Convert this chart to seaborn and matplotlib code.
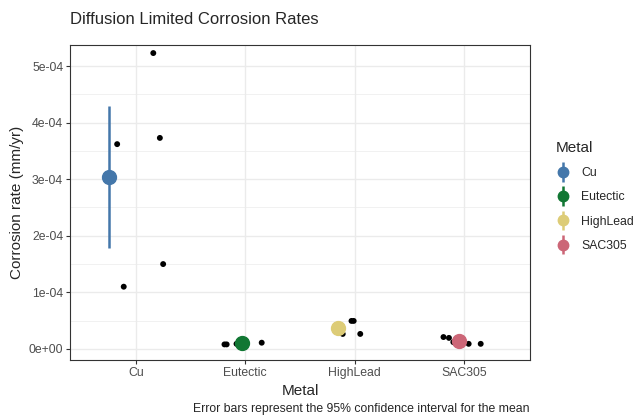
import numpy as np
import pandas as pd
import matplotlib
matplotlib.use("Agg")
import matplotlib.pyplot as plt
import seaborn as sns
from matplotlib.ticker import FuncFormatter, MultipleLocator
from matplotlib.legend_handler import HandlerErrorbar
from matplotlib.container import ErrorbarContainer

# samples per metal (mm/yr)
metals = ["Cu", "Eutectic", "HighLead", "SAC305"]
cu_rate = [5.23e-4, 3.62e-4, 3.73e-4, 1.10e-4, 1.50e-4]
eutectic_rate = [8e-6, 8e-6, 9e-6, 1.2e-5, 1.1e-5]
highlead_rate = [3.2e-5, 2.65e-5, 4.95e-5, 4.95e-5, 2.65e-5]
sac305_rate = [2.1e-5, 1.95e-5, 1.2e-5, 9e-6, 9e-6]

# horizontal jitter of each sample (category units)
cu_jit = [0.16, -0.17, 0.22, -0.11, 0.25]
eutectic_jit = [-0.19, -0.17, -0.08, -0.03, 0.15]
highlead_jit = [-0.17, -0.11, -0.03, -0.01, 0.05]
sac305_jit = [-0.19, -0.14, -0.10, 0.04, 0.15]

# mean marker jitter and 95% CI half width
mean_jit = [-0.24, -0.03, -0.15, -0.05]
ci_half = [1.26e-4, 3e-6, 8e-6, 5e-6]

colors = ["#4477AA", "#117733", "#DDCC77", "#CC6677"]

df = pd.DataFrame({
    "Metal": np.repeat(metals, 5),
    "rate": cu_rate + eutectic_rate + highlead_rate + sac305_rate,
    "jit": cu_jit + eutectic_jit + highlead_jit + sac305_jit,
})
df["xpos"] = df["Metal"].map({m: i for i, m in enumerate(metals)}) + df["jit"]
means = df.groupby("Metal", sort=False)["rate"].mean()

sns.set_style("white")
plt.rcParams["font.family"] = ["Liberation Sans", "DejaVu Sans"]

fig = plt.figure(figsize=(6.37, 4.18), dpi=100)
ax = fig.add_axes([0.110, 0.139, 0.722, 0.753])

sns.scatterplot(data=df, x="xpos", y="rate", color="black", s=18,
                edgecolor="none", ax=ax, zorder=3)

for i, m in enumerate(metals):
    ax.errorbar(i + mean_jit[i], means[m], yerr=ci_half[i], fmt="o",
                color=colors[i], markersize=10, elinewidth=1.8,
                capsize=0, label=m, zorder=4)

ax.set_xlim(-0.6, 3.6)
ax.set_ylim(-1.94e-5, 5.37e-4)
ax.set_xticks(range(len(metals)))
ax.set_xticklabels(metals)
ax.yaxis.set_major_locator(MultipleLocator(1e-4))
ax.yaxis.set_minor_locator(MultipleLocator(5e-5))
ax.yaxis.set_major_formatter(FuncFormatter(lambda v, p: f"{v:.0e}"))

ax.grid(True, which="major", color="#EBEBEB", linewidth=1.0, zorder=0)
ax.grid(True, which="minor", axis="y", color="#EBEBEB", linewidth=0.5, zorder=0)
ax.set_axisbelow(True)
for s in ax.spines.values():
    s.set_color("#333333")
    s.set_linewidth(0.8)
ax.tick_params(axis="both", which="major", length=3, width=0.8, color="#333333",
               labelsize=8.8, labelcolor="#4D4D4D", pad=2, left=True, bottom=True)
ax.tick_params(axis="y", which="minor", length=0)

ax.set_xlabel("Metal", fontsize=11, labelpad=4)
ax.set_ylabel("Corrosion rate (mm/yr)", fontsize=11, labelpad=3)
fig.text(0.110, 0.935, "Diffusion Limited Corrosion Rates", fontsize=12,
         ha="left", va="bottom")
fig.text(0.832, 0.008, "Error bars represent the 95% confidence interval for the mean",
         fontsize=8.8, ha="right", va="bottom")

handles, labels = ax.get_legend_handles_labels()
leg = fig.legend(handles, labels, title="Metal", loc="center left",
                 bbox_to_anchor=(0.855, 0.53), frameon=False, fontsize=8.8,
                 title_fontsize=11, handlelength=1.2, handletextpad=0.9,
                 labelspacing=1.0, markerscale=0.75,
                 handler_map={ErrorbarContainer: HandlerErrorbar(yerr_size=0.8)})
leg._legend_box.align = "left"

fig.savefig("out.png", dpi=100)
